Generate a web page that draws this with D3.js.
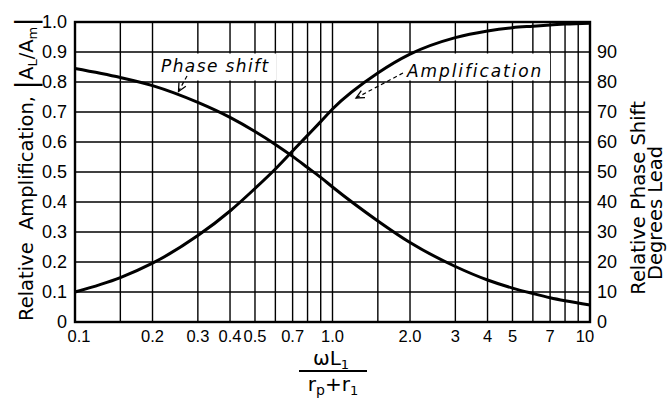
<!DOCTYPE html>
<html><head><meta charset="utf-8">
<script src="https://cdn.jsdelivr.net/npm/d3@7"></script>
<style>html,body{margin:0;padding:0;background:#fff;}svg{display:block;}</style>
</head><body>
<svg id="c" width="668" height="400"></svg>
<script>
// ---- data ----
const xValues = [0.1, 0.15, 0.2, 0.3, 0.4, 0.5, 0.6, 0.7, 0.8, 0.9, 1.0, 1.5, 2.0, 3, 4, 5, 6, 7, 8, 10];
const amplification = [0.10, 0.148, 0.196, 0.288, 0.37, 0.445, 0.51, 0.57, 0.622, 0.668, 0.71, 0.83, 0.893, 0.948, 0.97, 0.981, 0.986, 0.99, 0.993, 0.996];
const phaseShift = [84.5, 81.5, 78.8, 73.2, 68.2, 63.5, 59.2, 55.2, 51.5, 48.2, 45, 33.7, 26.5, 18.5, 14, 11.3, 9.5, 8.1, 7.1, 5.7];
const xTickLabels = ["0.1","0.2","0.3","0.4","0.5","0.7","1.0","2.0","3","4","5","7","10"];
const xTickValues = [0.1,0.2,0.3,0.4,0.5,0.7,1.0,2.0,3,4,5,7,10];
const xGridValues = [0.15,0.2,0.3,0.4,0.5,0.6,0.7,0.8,0.9,1.0,1.5,2,3,4,5,6,7,8,9];
const leftTicks = [0,0.1,0.2,0.3,0.4,0.5,0.6,0.7,0.8,0.9,1.0];
const leftTickLabels = ["0","0.1","0.2","0.3","0.4","0.5","0.6","0.7","0.8","0.9","1.0"];
const rightTicks = [0,10,20,30,40,50,60,70,80,90];

const svg = d3.select("#c");
const x = d3.scaleLog().domain([0.1, 10]).range([75, 590]);
const yL = d3.scaleLinear().domain([0, 1]).range([322, 22]);
const yR = d3.scaleLinear().domain([0, 100]).range([322, 22]);
const tickFont = "'Liberation Sans', Arial, sans-serif";
const titleFont = "'DejaVu Sans', sans-serif";

// grid
const g = svg.append("g");
g.selectAll("line.h").data(leftTicks.slice(1, -1)).join("line")
  .attr("x1", x(0.1)).attr("x2", x(10)).attr("y1", d => yL(d)).attr("y2", d => yL(d))
  .attr("stroke", "#000").attr("stroke-width", 1.4);
g.selectAll("line.v").data(xGridValues).join("line")
  .attr("x1", d => x(d)).attr("x2", d => x(d)).attr("y1", yL(0)).attr("y2", yL(1))
  .attr("stroke", "#000").attr("stroke-width", 1.4);

// white label boxes covering grid
svg.append("rect").attr("x", 157).attr("y", yL(0.9) + 1.5).attr("width", 119).attr("height", yL(0.8) - yL(0.9) - 3).attr("fill", "#fff");
svg.append("rect").attr("x", 398).attr("y", yL(0.9) + 1.5).attr("width", 152).attr("height", yL(0.8) - yL(0.9) - 3).attr("fill", "#fff");

// frame
svg.append("rect").attr("x", x(0.1)).attr("y", yL(1)).attr("width", x(10) - x(0.1)).attr("height", yL(0) - yL(1))
  .attr("fill", "none").attr("stroke", "#000").attr("stroke-width", 2.4);

// curves
const line = d3.line().curve(d3.curveMonotoneX);
svg.append("path").attr("d", line(xValues.map((d, i) => [x(d), yL(amplification[i])])))
  .attr("fill", "none").attr("stroke", "#000").attr("stroke-width", 3);
svg.append("path").attr("d", line(xValues.map((d, i) => [x(d), yR(phaseShift[i])])))
  .attr("fill", "none").attr("stroke", "#000").attr("stroke-width", 3);

// labels
svg.append("text").attr("x", 161).attr("y", 72).attr("font-family", titleFont).attr("font-style", "italic")
  .attr("font-size", 17).attr("letter-spacing", 1.4).text("Phase shift");
svg.append("text").attr("x", 407).attr("y", 77).attr("font-family", titleFont).attr("font-style", "italic")
  .attr("font-size", 17).attr("letter-spacing", 1.9).text("Amplification");

function arrow(x1, y1, x2, y2) {
  svg.append("line").attr("x1", x1).attr("y1", y1).attr("x2", x2).attr("y2", y2)
    .attr("stroke", "#000").attr("stroke-width", 1.2).attr("stroke-dasharray", "4,3");
  const a = Math.atan2(y1 - y2, x1 - x2), L = 9, s = 0.45;
  const p = [[x2 + L * Math.cos(a - s), y2 + L * Math.sin(a - s)], [x2, y2], [x2 + L * Math.cos(a + s), y2 + L * Math.sin(a + s)]];
  svg.append("path").attr("d", d3.line()(p)).attr("fill", "none").attr("stroke", "#000").attr("stroke-width", 1.3);
}
arrow(187, 76, 178.5, 91.5);
arrow(403, 73, 356, 98);

// axes
const ax = svg.append("g").attr("font-family", tickFont).attr("font-size", 16.5).attr("fill", "#000");
ax.selectAll("text.b").data(xTickValues).join("text")
  .attr("x", (d, i) => x(d) + (i === 0 ? 4 : (i === xTickValues.length - 1 ? -5 : 0)))
  .attr("y", 342).attr("text-anchor", "middle").text((d, i) => xTickLabels[i]);
ax.selectAll("text.l").data(leftTicks).join("text")
  .attr("x", 67).attr("y", d => yL(d) + 6).attr("text-anchor", "end").attr("font-size", 18)
  .text((d, i) => leftTickLabels[i]);
ax.selectAll("text.r").data(rightTicks).join("text")
  .attr("x", 597).attr("y", d => yR(d) + 6).attr("text-anchor", "start").attr("font-size", 18)
  .text(d => d);

// left title
const lt = svg.append("text").attr("transform", "translate(33,169) rotate(-90)")
  .attr("text-anchor", "middle").attr("font-family", titleFont).attr("font-size", 19.5).attr("fill", "#000");
lt.append("tspan").text("Relative\u00a0\u00a0Amplification, ");
lt.append("tspan").attr("font-size", 29).attr("dy", 3).text("|");
lt.append("tspan").attr("dy", -3).text("A");
lt.append("tspan").attr("font-size", 13).attr("dy", 4).text("L");
lt.append("tspan").attr("dy", -4).text("/A");
lt.append("tspan").attr("font-size", 13).attr("dy", 4).text("m");
lt.append("tspan").attr("font-size", 29).attr("dy", -1).text("|");

// right title
svg.append("text").attr("transform", "translate(645,198) rotate(-90)").attr("text-anchor", "middle")
  .attr("font-family", titleFont).attr("font-size", 19.5).text("Relative Phase Shift");
svg.append("text").attr("transform", "translate(662,213) rotate(-90)").attr("text-anchor", "middle")
  .attr("font-family", titleFont).attr("font-size", 19.5).text("Degrees Lead");

// x title (fraction)
const num = svg.append("text").attr("x", 331).attr("y", 365).attr("text-anchor", "middle")
  .attr("font-family", titleFont).attr("font-size", 20);
num.append("tspan").text("ωL");
num.append("tspan").attr("font-size", 13).attr("dy", 4).text("1");
svg.append("line").attr("x1", 299).attr("x2", 367).attr("y1", 371).attr("y2", 371)
  .attr("stroke", "#000").attr("stroke-width", 2);
const den = svg.append("text").attr("x", 333).attr("y", 391).attr("text-anchor", "middle")
  .attr("font-family", titleFont).attr("font-size", 20);
den.append("tspan").text("r");
den.append("tspan").attr("font-size", 14).attr("dy", 4).text("p");
den.append("tspan").attr("dy", -4).text("+r");
den.append("tspan").attr("font-size", 13).attr("dy", 4).text("1");
</script>
</body></html>
